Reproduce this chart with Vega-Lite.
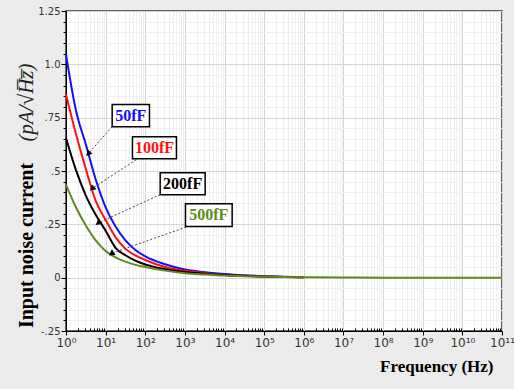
{
  "$schema": "https://vega.github.io/schema/vega-lite/v6.json",
  "width": 436,
  "height": 320,
  "autosize": {"type": "none"},
  "padding": {"left": 66, "top": 11, "right": 12, "bottom": 58},
  "background": "#ebebeb",
  "config": {
    "view": {"fill": "white", "stroke": "#333333", "strokeWidth": 1.5},
    "axis": {"labelFont": "DejaVu Sans", "labelFontSize": 10, "labelColor": "#333333", "domainColor": "#000000", "tickColor": "#000000", "gridWidth": 1, "labelFlush": false, "labelOverlap": false}
  },
  "datasets": {
    "curves": [
      {"s": "50fF", "f": 1, "v": 1.047},
      {"s": "50fF", "f": 1.778, "v": 0.785},
      {"s": "50fF", "f": 3.162, "v": 0.625},
      {"s": "50fF", "f": 5.623, "v": 0.46},
      {"s": "50fF", "f": 10, "v": 0.33},
      {"s": "50fF", "f": 17.78, "v": 0.24},
      {"s": "50fF", "f": 31.62, "v": 0.175},
      {"s": "50fF", "f": 56.23, "v": 0.13},
      {"s": "50fF", "f": 100, "v": 0.1},
      {"s": "50fF", "f": 316.2, "v": 0.063},
      {"s": "50fF", "f": 1000, "v": 0.038},
      {"s": "50fF", "f": 3162, "v": 0.026},
      {"s": "50fF", "f": 10000, "v": 0.017},
      {"s": "50fF", "f": 31623, "v": 0.011},
      {"s": "50fF", "f": 100000, "v": 0.007},
      {"s": "50fF", "f": 316228, "v": 0.004},
      {"s": "50fF", "f": 1000000, "v": 0.002},
      {"s": "100fF", "f": 1, "v": 0.859},
      {"s": "100fF", "f": 1.778, "v": 0.675},
      {"s": "100fF", "f": 3.162, "v": 0.51},
      {"s": "100fF", "f": 5.623, "v": 0.36},
      {"s": "100fF", "f": 10, "v": 0.27},
      {"s": "100fF", "f": 17.78, "v": 0.19},
      {"s": "100fF", "f": 31.62, "v": 0.135},
      {"s": "100fF", "f": 56.23, "v": 0.105},
      {"s": "100fF", "f": 100, "v": 0.083},
      {"s": "100fF", "f": 316.2, "v": 0.05},
      {"s": "100fF", "f": 1000, "v": 0.032},
      {"s": "100fF", "f": 3162, "v": 0.021},
      {"s": "100fF", "f": 10000, "v": 0.013},
      {"s": "100fF", "f": 31623, "v": 0.009},
      {"s": "100fF", "f": 100000, "v": 0.005},
      {"s": "100fF", "f": 316228, "v": 0.003},
      {"s": "100fF", "f": 1000000, "v": 0.002},
      {"s": "200fF", "f": 1, "v": 0.655},
      {"s": "200fF", "f": 1.778, "v": 0.505},
      {"s": "200fF", "f": 3.162, "v": 0.385},
      {"s": "200fF", "f": 5.623, "v": 0.295},
      {"s": "200fF", "f": 10, "v": 0.22},
      {"s": "200fF", "f": 17.78, "v": 0.14},
      {"s": "200fF", "f": 31.62, "v": 0.105},
      {"s": "200fF", "f": 56.23, "v": 0.08},
      {"s": "200fF", "f": 100, "v": 0.062},
      {"s": "200fF", "f": 316.2, "v": 0.04},
      {"s": "200fF", "f": 1000, "v": 0.027},
      {"s": "200fF", "f": 3162, "v": 0.018},
      {"s": "200fF", "f": 10000, "v": 0.012},
      {"s": "200fF", "f": 31623, "v": 0.008},
      {"s": "200fF", "f": 100000, "v": 0.005},
      {"s": "200fF", "f": 316228, "v": 0.003},
      {"s": "200fF", "f": 1000000, "v": 0.002},
      {"s": "500fF", "f": 1, "v": 0.436},
      {"s": "500fF", "f": 1.778, "v": 0.33},
      {"s": "500fF", "f": 3.162, "v": 0.245},
      {"s": "500fF", "f": 5.623, "v": 0.175},
      {"s": "500fF", "f": 10, "v": 0.125},
      {"s": "500fF", "f": 17.78, "v": 0.095},
      {"s": "500fF", "f": 31.62, "v": 0.075},
      {"s": "500fF", "f": 56.23, "v": 0.06},
      {"s": "500fF", "f": 100, "v": 0.05},
      {"s": "500fF", "f": 316.2, "v": 0.033},
      {"s": "500fF", "f": 1000, "v": 0.021},
      {"s": "500fF", "f": 3162, "v": 0.015},
      {"s": "500fF", "f": 10000, "v": 0.01},
      {"s": "500fF", "f": 31623, "v": 0.007},
      {"s": "500fF", "f": 100000, "v": 0.005},
      {"s": "500fF", "f": 316228, "v": 0.003},
      {"s": "500fF", "f": 1000000, "v": 0.002},
      {"s": "500fF", "f": 10000000, "v": 0.001},
      {"s": "500fF", "f": 100000000, "v": 0},
      {"s": "500fF", "f": 1000000000, "v": 0},
      {"s": "500fF", "f": 10000000000, "v": 0},
      {"s": "500fF", "f": 100000000000, "v": 0}
    ],
    "notes": [
      {"s": "50fF", "bx1": 14.62, "bx2": 127.6, "by1": 0.708, "by2": 0.812, "tx": 43.2, "ty": 0.76, "ax1": 14.62, "ay1": 0.708, "ax2": 3.76, "ay2": 0.584},
      {"s": "100fF", "bx1": 47.5, "bx2": 612, "by1": 0.558, "by2": 0.661, "tx": 170.6, "ty": 0.609, "ax1": 59.0, "ay1": 0.553, "ax2": 4.74, "ay2": 0.42},
      {"s": "200fF", "bx1": 237.7, "bx2": 3243, "by1": 0.389, "by2": 0.492, "tx": 877, "ty": 0.44, "ax1": 237.7, "ay1": 0.389, "ax2": 6.71, "ay2": 0.258},
      {"s": "500fF", "bx1": 1033, "bx2": 15560, "by1": 0.24, "by2": 0.346, "tx": 3981, "ty": 0.293, "ax1": 1076, "ay1": 0.237, "ax2": 14.62, "ay2": 0.115}
    ]
  },
  "resolve": {"axis": {"x": "independent", "y": "independent"}},
  "layer": [
    {
      "data": {"name": "curves"},
      "mark": {"type": "line", "strokeWidth": 2, "interpolate": "monotone"},
      "encoding": {
        "x": {"field": "f", "type": "quantitative",
          "scale": {"type": "log", "domain": [1, 100000000000], "nice": false},
          "axis": {"orient": "bottom", "values": [2,3,4,5,6,7,8,9,20,30,40,50,60,70,80,90,200,300,400,500,600,700,800,900,2000,3000,4000,5000,6000,7000,8000,9000,20000,30000,40000,50000,60000,70000,80000,90000,200000,300000,400000,500000,600000,700000,800000,900000,2000000,3000000,4000000,5000000,6000000,7000000,8000000,9000000,20000000,30000000,40000000,50000000,60000000,70000000,80000000,90000000,200000000,300000000,400000000,500000000,600000000,700000000,800000000,900000000,2000000000,3000000000,4000000000,5000000000,6000000000,7000000000,8000000000,9000000000,20000000000,30000000000,40000000000,50000000000,60000000000,70000000000,80000000000,90000000000],
            "labels": false, "domain": false, "tickSize": -3, "grid": true, "gridColor": "#efefef", "title": null}},
        "y": {"field": "v", "type": "quantitative",
          "scale": {"domain": [-0.25, 1.25], "nice": false, "zero": false},
          "axis": {"orient": "left", "values": [-0.2,-0.15,-0.1,-0.05,0.05,0.1,0.15,0.2,0.3,0.35,0.4,0.45,0.55,0.6,0.65,0.7,0.8,0.85,0.9,0.95,1.05,1.1,1.15,1.2],
            "labels": false, "domain": false, "tickSize": 3, "grid": true, "gridColor": "#efefef",
            "title": "(pA/√H̅z̅)", "titleFont": "Liberation Serif", "titleFontStyle": "italic", "titleFontWeight": "normal", "titleFontSize": 21, "titleColor": "#222222",
            "titleAngle": 270, "titleX": -30, "titleY": 91, "titleAlign": "center", "titleBaseline": "bottom"}},
        "color": {"field": "s", "type": "nominal", "legend": null,
          "scale": {"domain": ["50fF", "100fF", "200fF", "500fF"], "range": ["#1010ff", "#ff1010", "#000000", "#5e8a1e"]}}
      }
    },
    {
      "data": {"name": "notes"},
      "mark": {"type": "rule", "strokeDash": [2, 2], "color": "#444444", "strokeWidth": 1},
      "encoding": {
        "x": {"field": "ax1", "type": "quantitative",
          "axis": {"orient": "bottom", "values": [1,10,100,1000,10000,100000,1000000,10000000,100000000,1000000000,10000000000,100000000000],
            "labelExpr": "['10⁰','10¹','10²','10³','10⁴','10⁵','10⁶','10⁷','10⁸','10⁹','10¹⁰','10¹¹'][round(log(datum.value)/LN10)]",
            "labelFontSize": 12, "tickSize": 4, "labelPadding": 2, "grid": true, "gridColor": "#d4d4d4",
            "title": "Frequency (Hz)", "titleFont": "Liberation Serif", "titleFontSize": 17, "titleFontWeight": "bold", "titleColor": "#000000",
            "titleX": 427, "titleY": 40, "titleAlign": "right", "titleBaseline": "alphabetic"}},
        "x2": {"field": "ax2"},
        "y": {"field": "ay1", "type": "quantitative",
          "axis": {"orient": "left", "values": [-0.25, 0, 0.25, 0.5, 0.75, 1, 1.25],
            "labelExpr": "datum.value == 1 ? '1.0' : replace(replace(format(datum.value, '.2~f'), '0.', '.'), '−', '-')",
            "tickSize": 5, "labelPadding": 1, "grid": true, "gridColor": "#d4d4d4",
            "title": "Input noise current", "titleFont": "Liberation Serif", "titleFontSize": 20, "titleFontWeight": "bold", "titleColor": "#000000",
            "titleAngle": 270, "titleX": -30, "titleY": 234, "titleAlign": "center", "titleBaseline": "bottom"}},
        "y2": {"field": "ay2"}
      }
    },
    {
      "data": {"name": "notes"},
      "mark": {"type": "rect", "fill": "white", "stroke": "#000000", "strokeWidth": 1.5},
      "encoding": {
        "x": {"field": "bx1", "type": "quantitative", "axis": null},
        "x2": {"field": "bx2"},
        "y": {"field": "by1", "type": "quantitative", "axis": null},
        "y2": {"field": "by2"}
      }
    },
    {
      "data": {"name": "notes"},
      "mark": {"type": "text", "font": "Liberation Serif", "fontSize": 16, "fontWeight": "bold", "align": "center", "baseline": "middle"},
      "encoding": {
        "x": {"field": "tx", "type": "quantitative", "axis": null},
        "y": {"field": "ty", "type": "quantitative", "axis": null},
        "text": {"field": "s"},
        "color": {"field": "s", "type": "nominal", "legend": null}
      }
    },
    {
      "data": {"name": "notes"},
      "mark": {"type": "point", "shape": "triangle", "filled": true, "color": "#000000", "size": 45, "opacity": 1},
      "encoding": {
        "x": {"field": "ax2", "type": "quantitative", "axis": null},
        "y": {"field": "ay2", "type": "quantitative", "axis": null},
        "angle": {"field": "s", "type": "nominal", "legend": null,
          "scale": {"domain": ["50fF", "100fF", "200fF", "500fF"], "range": [221.7, 236.9, 245.7, 250.6]}}
      }
    }
  ]
}
